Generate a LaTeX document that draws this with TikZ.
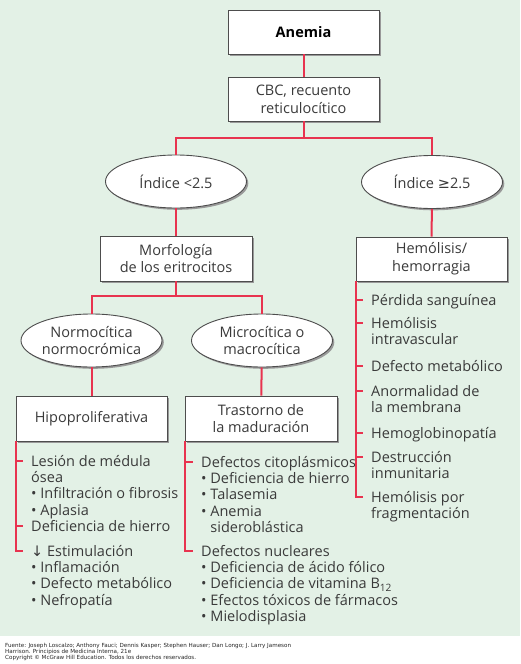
\documentclass[tikz,border=0pt]{standalone}
\usepackage{fontspec}
\setmainfont{Open Sans}
\newfontfamily\symfont{DejaVu Sans}
\newfontfamily\footfont{DejaVu Sans}
\usetikzlibrary{shapes.geometric,shadows,calc}
\definecolor{bggreen}{HTML}{E3F1E6}
\definecolor{linered}{HTML}{E8334F}
\definecolor{txt}{HTML}{3A3A3A}
\definecolor{frame}{HTML}{4D4D4D}
\tikzset{
  basebox/.style={draw=frame, line width=0.9pt, fill=white, text=txt, align=center,
     font=\fontsize{14.5}{17.7}\selectfont,
     drop shadow={shadow xshift=1.8pt, shadow yshift=-1.8pt, fill=black!40, opacity=1}},
  box/.style={basebox, rectangle, inner sep=2pt, minimum width=151pt, minimum height=44pt},
  oval/.style={basebox, ellipse, inner sep=0pt, minimum width=141pt, minimum height=53pt},
  conn/.style={draw=linered, line width=2pt},
  item/.style={anchor=north west, inner sep=0pt, align=left, text=txt,
     font=\fontsize{14.5}{16.3}\selectfont},
}
\begin{document}
\begin{tikzpicture}[x=1pt,y=-1pt]
\useasboundingbox (0,0) rectangle (520,664);
\fill[white] (0,0) rectangle (520,664);
\fill[bggreen] (0,0) rectangle (520,635.5);

% main nodes
\node[box, font=\fontsize{14.5}{17.7}\selectfont\bfseries, text=black] (anemia) at (303.5,32) {Anemia};
\node[box] (cbc) at (303.5,99) {CBC, recuento\\reticulocítico};
\node[oval] (lo) at (176,181.5) {Índice <2.5};
\node[oval] (hi) at (432,182) {Índice {\symfont ≥}2.5};
\node[box, minimum width=152pt, minimum height=45pt] (morf) at (176,258.5) {Morfología\\de los eritrocitos};
\node[box] (hem) at (431.5,259) {Hemólisis/\\hemorragia};
\node[oval] (normo) at (91.5,340.5) {Normocítica\\normocrómica};
\node[oval] (micro) at (262,340.5) {Microcítica o\\macrocítica};
\node[box, minimum height=45pt] (hipo) at (91.5,418.5) {Hipoproliferativa};
\node[box, minimum width=152pt, minimum height=45pt] (tras) at (261,418.5) {Trastorno de\\la maduración};

% junctions
\coordinate (j1) at (303.5,138);
\coordinate (j2) at (176,296);

% connectors
\draw[conn] (anemia) -- (cbc);
\draw[conn] (cbc) -- (j1);
\draw[conn] (lo.north) |- (j1) -| (hi.north);
\draw[conn] (lo) -- (morf);
\draw[conn] (hi) -- (hem);
\draw[conn] (morf) -- (j2);
\draw[conn] (normo.north) |- (j2) -| (micro.north);
\draw[conn] (normo) -- (hipo);
\draw[conn] (micro) -- (tras);

% left list
\node[item] (e1) at (31,454.6) {\strut Lesión de médula\\ósea\\• Infiltración o fibrosis\\• Aplasia};
\node[item] (e2) at (31,519.8) {\strut Deficiencia de hierro};
\node[item] (e3) at (31,544.6) {\strut{\symfont ↓} Estimulación\\• Inflamación\\• Defecto metabólico\\• Nefropatía};
\coordinate (te1) at ($(e1.north west)+(-8,6)$);
\coordinate (te2) at ($(e2.north west)+(-8,6)$);
\coordinate (te3) at ($(e3.north west)+(-8,6)$);
\draw[conn] (hipo.south west) |- (te3);
\draw[conn] (hipo.south west |- te1) -- (te1);
\draw[conn] (hipo.south west |- te2) -- (te2);

% middle list
\node[item] (m1) at (201,455.6) {\strut Defectos citoplásmicos\\• Deficiencia de hierro\\• Talasemia\\• Anemia\\\phantom{• }sideroblástica};
\node[item] (m2) at (201,544.6) {\strut Defectos nucleares\\• Deficiencia de ácido fólico\\• Deficiencia de vitamina B\textsubscript{12}\\• Efectos tóxicos de fármacos\\• Mielodisplasia};
\coordinate (tm1) at ($(m1.north west)+(-8,6)$);
\coordinate (tm2) at ($(m2.north west)+(-8,6)$);
\draw[conn] (tras.south west) |- (tm2);
\draw[conn] (tras.south west |- tm1) -- (tm1);

% right list
\node[item] (r1) at (371,293.6) {\strut Pérdida sanguínea};
\node[item] (r2) at (371,316.6) {\strut Hemólisis\\intravascular};
\node[item] (r3) at (371,359.6) {\strut Defecto metabólico};
\node[item] (r4) at (371,384.6) {\strut Anormalidad de\\la membrana};
\node[item] (r5) at (371,426.6) {\strut Hemoglobinopatía};
\node[item] (r6) at (371,450.6) {\strut Destrucción\\inmunitaria};
\node[item] (r7) at (371,490.6) {\strut Hemólisis por\\fragmentación};
\foreach \i in {1,...,7} {\coordinate (tr\i) at ($(r\i.north west)+(-8,6)$);}
\draw[conn] (hem.south west) |- (tr7);
\foreach \i in {1,...,6} {\draw[conn] (hem.south west |- tr\i) -- (tr\i);}

% footer
\node[anchor=north west, inner sep=0pt, align=left, text=black!85,
      font=\footfont\fontsize{5.6}{5.6}\selectfont] (foot) at (5,642.6)
  {\strut Fuente: Joseph Loscalzo; Anthony Fauci; Dennis Kasper; Stephen Hauser; Dan Longo; J. Larry Jameson\\
   Harrison. Principios de Medicina Interna, 21e\\
   Copyright © McGraw Hill Education. Todos los derechos reservados.};
\end{tikzpicture}
\end{document}
